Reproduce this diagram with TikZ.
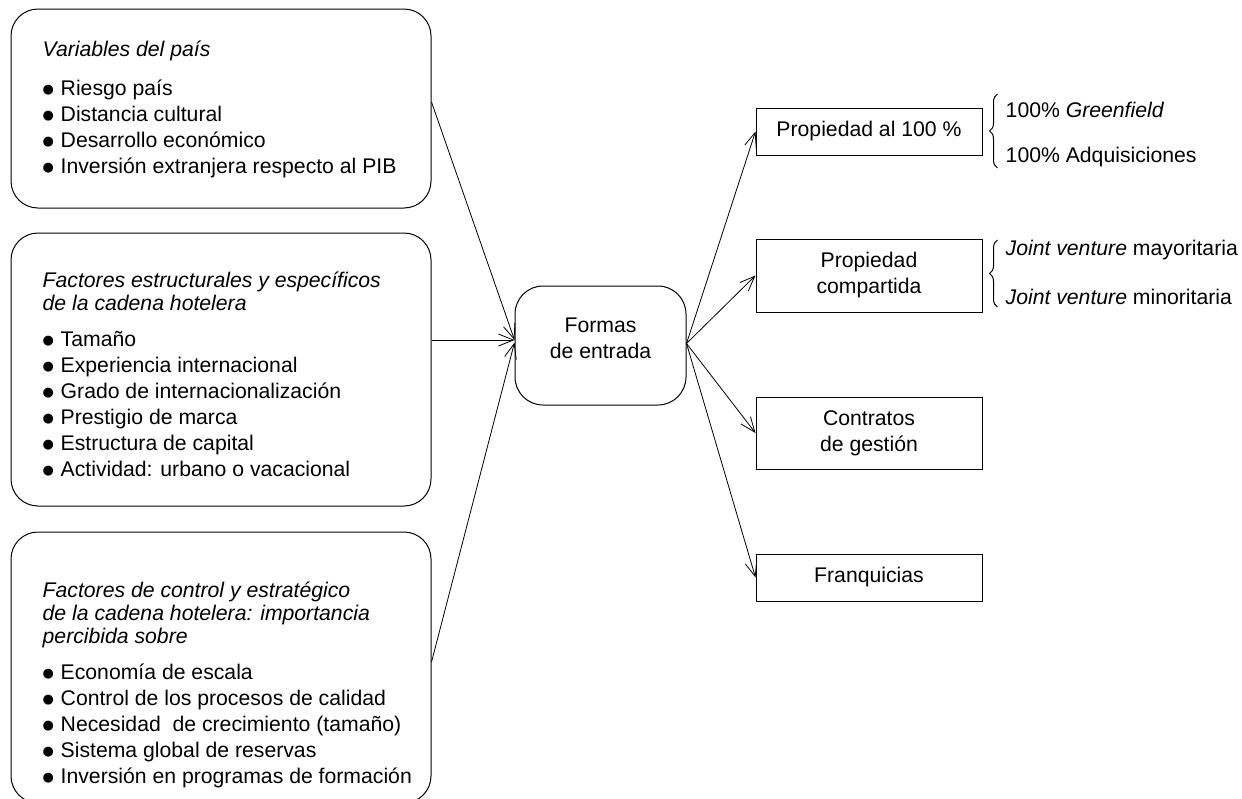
\documentclass[tikz,border=0pt]{standalone}
\usepackage{fontspec}
\setmainfont{Liberation Sans}
\newfontfamily\dejavu{DejaVu Sans}
\usetikzlibrary{arrows.meta,decorations.pathreplacing,calc}

% bullet mark followed by a fixed indent
\newcommand{\bul}{\makebox[18pt][l]{\raisebox{1.3pt}{\dejavu\fontsize{13}{13}\selectfont ●}}}
% first-line strut so that the top of a text block is a fixed distance above its baseline
\newcommand{\topstrut}{\rule{0pt}{20pt}}

\tikzset{
  every node/.style={font=\fontsize{21.2}{26}\selectfont},
  lbox/.style={draw, line width=1pt, rounded corners=27pt, minimum width=420pt, inner sep=0pt},
  ltext/.style={anchor=north west, inner sep=0pt, align=left},
  cbox/.style={draw, line width=1pt, rounded corners=28pt, minimum width=171pt, minimum height=119pt, align=center, inner sep=0pt},
  rbox/.style={draw, line width=1pt, minimum width=226pt, align=center, inner sep=0pt},
  arr/.style={-{Straight Barb[length=15pt,width=12pt]}, line width=0.8pt},
  brc/.style={decorate, decoration={brace, amplitude=8pt}, line width=1pt},
  item/.style={anchor=base west, inner sep=0pt}
}

\begin{document}
\begin{tikzpicture}[x=1pt,y=-1pt]
\clip (0,0) rectangle (1242,798);

% left-hand boxes
\node[lbox, minimum height=199pt] (b1) at (221,108.5) {};
\node[lbox, minimum height=273pt] (b2) at (221,369.5) {};
\node[lbox, minimum height=271pt] (b3) at (221,667.5) {};

\node[ltext] (t1) at ($(b1.north west)+(32,27.5)$) {%
  \topstrut{\itshape Variables del país}\\[13pt]
  \bul Riesgo país\\
  \bul Distancia cultural\\
  \bul Desarrollo económico\\
  \bul Inversión extranjera respecto al PIB};

\node[ltext] (t2) at ($(b2.north west)+(32,34.5)$) {%
  \topstrut{\itshape Factores estructurales y específicos}\\[-3pt]
  {\itshape de la cadena hotelera}\\[10pt]
  \bul Tamaño\\
  \bul Experiencia internacional\\
  \bul Grado de internacionalización\\
  \bul Prestigio de marca\\
  \bul Estructura de capital\\
  \bul Actividad: urbano o vacacional};

\node[ltext] (t3) at ($(b3.north west)+(32,45.5)$) {%
  \topstrut{\itshape Factores de control y estratégico}\\[-3pt]
  {\itshape de la cadena hotelera: importancia}\\[-3pt]
  {\itshape percibida sobre}\\[10pt]
  \bul Economía de escala\\
  \bul Control de los procesos de calidad\\
  \bul Necesidad\ \ de crecimiento (tamaño)\\
  \bul Sistema global de reservas\\
  \bul Inversión en programas de formación};

% central node (extra depth on the last line lifts the text slightly)
\node[cbox] (fe) at (600.5,345.5) {Formas\\de entrada\rule[-14pt]{0pt}{0pt}};

% right-hand boxes
\node[rbox, minimum height=47pt] (r1) at (869,131.5) {Propiedad al 100 \%};
\node[rbox, minimum height=73pt] (r2) at (869,275.5) {Propiedad\\compartida};
\node[rbox, minimum height=72pt] (r3) at (869,433) {Contratos\\de gestión};
\node[rbox, minimum height=47pt] (r4) at (869,577.5) {Franquicias};

% connectors into the central node
\draw[arr] ($(b1.east)+(0,-6.5)$) -- ($(fe.west)+(0,-5.5)$);
\draw[arr] ($(b2.east)+(0,-29.5)$) -- ($(fe.west)+(0,-5.5)$);
\draw[arr] ($(b3.east)+(0,-5.5)$) -- ($(fe.west)+(0,-3)$);

% connectors out of the central node
\draw[arr] ($(fe.east)+(0,-2)$) -- (r1.west);
\draw[arr] ($(fe.east)+(0,-2)$) -- (r2.west);
\draw[arr] ($(fe.east)+(0,-2)$) -- (r3.west);
\draw[arr] ($(fe.east)+(0,-2)$) -- (r4.west);

% sub-types of ownership
\draw[brc] ($(r1.east)+(15,36.5)$) -- ($(r1.east)+(15,-37.5)$);
\node[item] (g1) at ($(r1.east)+(23,-14)$) {100\% \textit{Greenfield}};
\node[item] (g2) at ($(r1.east)+(23,31)$) {100\% Adquisiciones};

\draw[brc] ($(r2.east)+(15,31.5)$) -- ($(r2.east)+(15,-35.5)$);
\node[item] (j1) at ($(r2.east)+(23,-20)$) {\textit{Joint venture} mayoritaria};
\node[item] (j2) at ($(r2.east)+(23,29)$) {\textit{Joint venture} minoritaria};
\end{tikzpicture}
\end{document}
